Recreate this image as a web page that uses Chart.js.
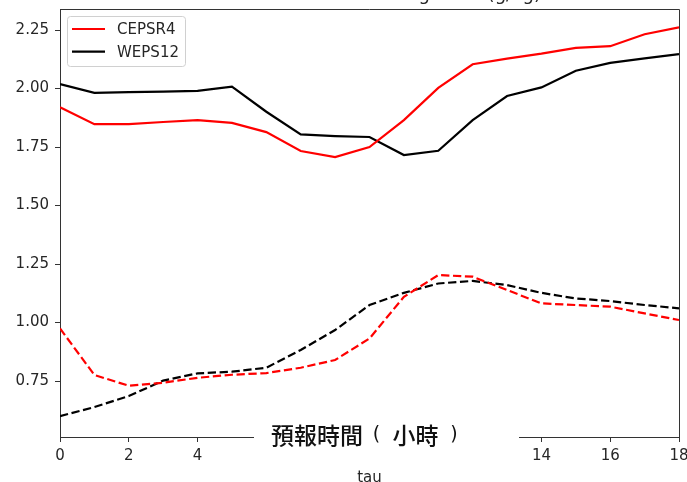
<!DOCTYPE html>
<html>
<head>
<meta charset="utf-8">
<style>
  html, body { margin: 0; padding: 0; background: #fff; }
  #wrap { width: 687px; height: 482px; }
</style>
<script src="https://cdn.jsdelivr.net/npm/chart.js@4.4.1/dist/chart.umd.min.js"></script>
</head>
<body>
<div id="wrap"><canvas id="c" width="687" height="482"></canvas></div>
<script>
// ---- data ----
const tau = [0,1,2,3,4,5,6,7,8,9,10,11,12,13,14,15,16,17,18];
const cepsr4Solid = [1.920,1.848,1.848,1.857,1.865,1.853,1.814,1.733,1.707,1.750,1.865,2.003,2.104,2.128,2.149,2.174,2.181,2.232,2.262];
const weps12Solid = [2.019,1.982,1.985,1.987,1.990,2.008,1.901,1.804,1.797,1.793,1.716,1.734,1.865,1.968,2.005,2.076,2.110,2.129,2.147];
const cepsr4Dash  = [0.975,0.776,0.730,0.743,0.764,0.777,0.784,0.807,0.840,0.932,1.110,1.203,1.196,1.139,1.082,1.075,1.068,1.039,1.011];
const weps12Dash  = [0.600,0.639,0.686,0.752,0.783,0.790,0.807,0.883,0.968,1.075,1.127,1.167,1.178,1.160,1.127,1.103,1.092,1.075,1.061];
const yTicks = [0.75,1.00,1.25,1.50,1.75,2.00,2.25];
const xTickStep = 2;
const legendLabels = ['CEPSR4','WEPS12'];
const titleText = 'Mixing Ratio (g/kg)';
const overlayParts = ['預報時間', '(', '小時', ')'];
const xAxisTitle = 'tau';

const pts = arr => tau.map((x, i) => ({x: x, y: arr[i]}));
const FONT = '"DejaVu Sans", sans-serif';
const TXT = '#262626';

const framePlugin = {
  id: 'frame',
  afterDraw(chart) {
    const {ctx, chartArea: a} = chart;
    ctx.save();
    // top and right spines
    ctx.strokeStyle = '#333';
    ctx.lineWidth = 1;
    ctx.beginPath();
    ctx.moveTo(a.left, a.top + 0.5);
    ctx.lineTo(a.right + 0.5, a.top + 0.5);
    ctx.lineTo(a.right + 0.5, a.bottom);
    ctx.stroke();

    // clipped title (only descenders visible)
    ctx.fillStyle = TXT;
    ctx.font = '18px ' + FONT;
    ctx.textAlign = 'right';
    ctx.textBaseline = 'alphabetic';
    ctx.fillText(titleText, 541, 0);

    // legend
    const lx = 67.5, ly = 16.5, lw = 118, lh = 50;
    ctx.globalAlpha = 0.8;
    ctx.fillStyle = '#fff';
    ctx.beginPath();
    ctx.roundRect(lx, ly, lw, lh, 3);
    ctx.fill();
    ctx.globalAlpha = 1;
    ctx.strokeStyle = '#d0d0d0';
    ctx.lineWidth = 1;
    ctx.stroke();
    const ds = chart.data.datasets;
    const rows = [29, 51.7];
    legendLabels.forEach((lab, i) => {
      ctx.strokeStyle = ds[i].borderColor;
      ctx.lineWidth = 2.2;
      ctx.setLineDash([]);
      ctx.beginPath();
      ctx.moveTo(72, rows[i]);
      ctx.lineTo(105, rows[i]);
      ctx.stroke();
      ctx.fillStyle = TXT;
      ctx.font = '15px ' + FONT;
      ctx.textAlign = 'left';
      ctx.textBaseline = 'middle';
      ctx.fillText(lab, 117, rows[i] + 1);
    });

    // white overlay with Chinese axis label
    ctx.fillStyle = '#fff';
    ctx.fillRect(254, 416, 265, 50);
    ctx.fillStyle = '#111';
    ctx.textBaseline = 'middle';
    const cjk = '500 23px "Noto Sans CJK TC", "Noto Sans CJK SC", sans-serif';
    const par = '19px ' + FONT;
    ctx.textAlign = 'left';
    ctx.font = cjk;
    ctx.fillText(overlayParts[0], 271, 435);
    ctx.textAlign = 'center';
    ctx.font = par;
    ctx.fillText(overlayParts[1], 376.5, 435);
    ctx.textAlign = 'left';
    ctx.font = cjk;
    ctx.fillText(overlayParts[2], 392.5, 435);
    ctx.textAlign = 'center';
    ctx.font = par;
    ctx.fillText(overlayParts[3], 454, 435);
    ctx.restore();
  }
};

new Chart(document.getElementById('c'), {
  type: 'line',
  data: {
    datasets: [
      {label: 'CEPSR4', data: pts(cepsr4Solid), borderColor: '#ff0000', borderWidth: 2.2},
      {label: 'WEPS12', data: pts(weps12Solid), borderColor: '#000000', borderWidth: 2.2},
      {label: 'CEPSR4 dashed', data: pts(cepsr4Dash), borderColor: '#ff0000', borderWidth: 2.2, borderDash: [8.3, 3.6]},
      {label: 'WEPS12 dashed', data: pts(weps12Dash), borderColor: '#000000', borderWidth: 2.2, borderDash: [8.3, 3.6]}
    ]
  },
  options: {
    responsive: false,
    devicePixelRatio: 1,
    animation: false,
    layout: {padding: {top: 9, right: 8, left: 0, bottom: 0}},
    elements: {point: {radius: 0}, line: {tension: 0, fill: false}},
    plugins: {legend: {display: false}, tooltip: {enabled: false}, title: {display: false}},
    scales: {
      x: {
        type: 'linear', min: 0, max: 18,
        afterFit(s) { s.height = 45; s.paddingRight = 0; s.paddingLeft = 0; },
        ticks: {stepSize: xTickStep, color: TXT, font: {family: FONT, size: 15}, padding: 5, maxRotation: 0},
        grid: {drawOnChartArea: false, tickLength: 5, color: '#333', tickWidth: 1},
        border: {display: true, color: '#333', width: 1},
        title: {display: true, text: xAxisTitle, color: TXT, font: {family: FONT, size: 15}, padding: {top: 0, bottom: -5}}
      },
      y: {
        type: 'linear', min: 0.511, max: 2.34,
        afterFit(s) { s.width = 60; s.paddingTop = 0; s.paddingBottom = 0; },
        afterBuildTicks(s) { s.ticks = yTicks.map(v => ({value: v})); },
        ticks: {color: TXT, font: {family: FONT, size: 15}, padding: 6, callback: v => Number(v).toFixed(2)},
        grid: {drawOnChartArea: false, tickLength: 5, color: '#333', tickWidth: 1},
        border: {display: true, color: '#333', width: 1}
      }
    }
  },
  plugins: [framePlugin]
});
</script>
</body>
</html>
